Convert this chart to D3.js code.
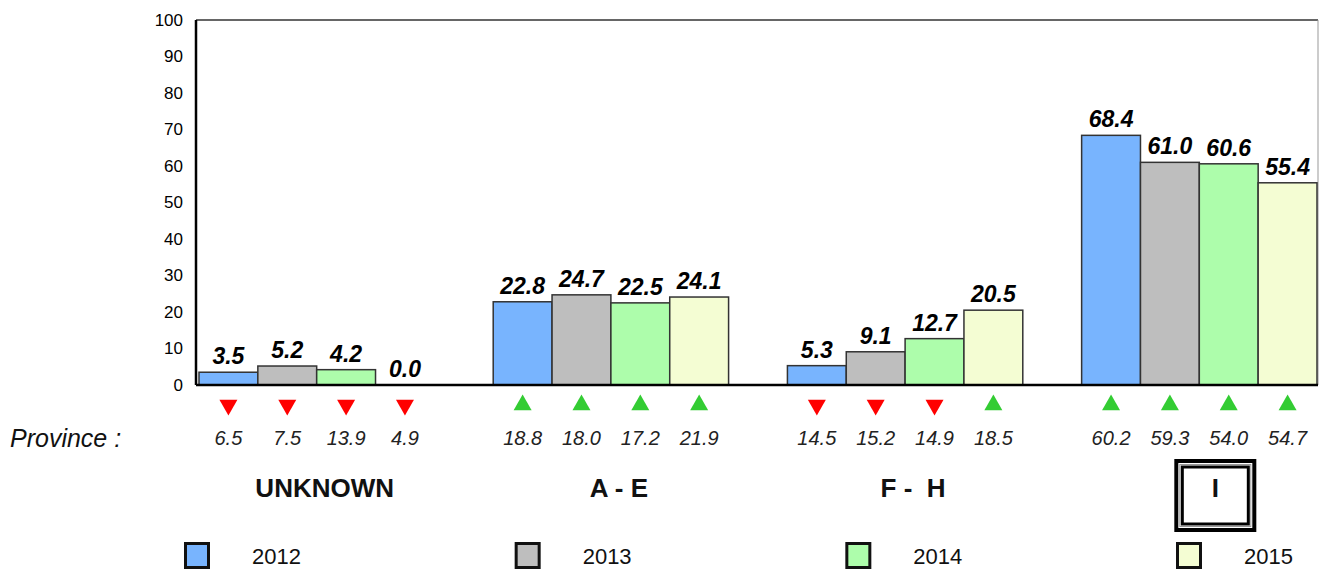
<!DOCTYPE html>
<html>
<head>
<meta charset="utf-8">
<script src="https://cdn.jsdelivr.net/npm/d3@7"></script>
<style>
  body { margin: 0; background: #fff; }
  svg { display: block; font-family: "Liberation Sans", Arial, sans-serif; }
</style>
</head>
<body>
<div id="chart"></div>
<script>
// data
var groups = ["UNKNOWN", "A - E", "F -  H", "I"];
var years = ["2012", "2013", "2014", "2015"];
var colors = ["#78b4fe", "#bebebe", "#adfdab", "#f4fdd3"];
var v2012 = [3.5, 22.8, 5.3, 68.4];
var v2013 = [5.2, 24.7, 9.1, 61.0];
var v2014 = [4.2, 22.5, 12.7, 60.6];
var v2015 = [0.0, 24.1, 20.5, 55.4];
// province figures shown under the bars
var p2012 = [6.5, 18.8, 14.5, 60.2];
var p2013 = [7.5, 18.0, 15.2, 59.3];
var p2014 = [13.9, 17.2, 14.9, 54.0];
var p2015 = [4.9, 21.9, 18.5, 54.7];
var yTicks = [0, 10, 20, 30, 40, 50, 60, 70, 80, 90, 100];
var boxedGroup = "I";

function drawChart() {
    var series = [v2012, v2013, v2014, v2015];
    var province = [p2012, p2013, p2014, p2015];

    var W = 1319, H = 569;
    var margin = { left: 196, right: 1318, top: 20, bottom: 385 };

    var svg = d3.select("#chart").append("svg")
        .attr("width", W)
        .attr("height", H);

    var y = d3.scaleLinear().domain([0, 100]).range([margin.bottom, margin.top]);

    var x0 = d3.scaleBand()
        .domain(groups)
        .range([199, 1317])
        .paddingInner(0.2)
        .paddingOuter(0);

    var x1 = d3.scaleBand()
        .domain(years)
        .range([0, x0.bandwidth()]);

    // frame: top + right
    svg.append("line")
        .attr("x1", margin.left).attr("x2", margin.right)
        .attr("y1", margin.top).attr("y2", margin.top)
        .attr("stroke", "#333").attr("stroke-width", 1.5);
    svg.append("line")
        .attr("x1", margin.right).attr("x2", margin.right)
        .attr("y1", margin.top).attr("y2", margin.bottom)
        .attr("stroke", "#999").attr("stroke-width", 1);

    // y axis labels
    var gy = svg.append("g")
        .attr("transform", "translate(" + margin.left + ",0)")
        .call(d3.axisLeft(y).tickValues(yTicks).tickSize(0).tickPadding(13));
    gy.select(".domain").remove();
    gy.selectAll("text")
        .style("font-size", "17px")
        .style("font-family", "Liberation Sans, Arial, sans-serif")
        .attr("fill", "#000");

    // flat rows for the bars
    var rows = [];
    groups.forEach(function (g, gi) {
        years.forEach(function (yr, si) {
            rows.push({ group: g, year: yr, si: si,
                value: series[si][gi], prov: province[si][gi] });
        });
    });
    var cx = function (d) { return x0(d.group) + x1(d.year) + x1.bandwidth() / 2; };

    svg.append("g").selectAll("rect")
        .data(rows.filter(function (d) { return d.value > 0; }))
        .enter()
        .append("rect")
        .attr("x", function (d) { return x0(d.group) + x1(d.year); })
        .attr("y", function (d) { return y(d.value); })
        .attr("width", x1.bandwidth())
        .attr("height", function (d) { return y(0) - y(d.value); })
        .attr("fill", function (d) { return colors[d.si]; })
        .attr("stroke", "#333")
        .attr("stroke-width", 1.5);

    // value labels
    svg.append("g").selectAll("text")
        .data(rows)
        .enter()
        .append("text")
        .attr("x", cx)
        .attr("y", function (d) { return y(d.value) - 8; })
        .attr("text-anchor", "middle")
        .style("font-size", "23px")
        .style("font-weight", "bold")
        .style("font-style", "italic")
        .attr("fill", "#000")
        .text(function (d) { return d.value.toFixed(1); });

    // axis lines
    svg.append("line")
        .attr("x1", margin.left).attr("x2", margin.left)
        .attr("y1", margin.top).attr("y2", margin.bottom)
        .attr("stroke", "#000").attr("stroke-width", 2.5);
    svg.append("line")
        .attr("x1", margin.left).attr("x2", margin.right)
        .attr("y1", margin.bottom).attr("y2", margin.bottom)
        .attr("stroke", "#000").attr("stroke-width", 2.5);

    // up/down markers
    var tri = d3.symbol().type(d3.symbolTriangle).size(140);
    svg.append("g").selectAll("path")
        .data(rows)
        .enter()
        .append("path")
        .attr("d", tri)
        .attr("transform", function (d) {
            var up = d.value > d.prov;
            return "translate(" + cx(d) + ",405)" + (up ? "" : " rotate(180)");
        })
        .attr("fill", function (d) { return d.value > d.prov ? "#33cc33" : "#ff0000"; });

    // province values
    svg.append("g").selectAll("text")
        .data(rows)
        .enter()
        .append("text")
        .attr("x", cx)
        .attr("y", 445)
        .attr("text-anchor", "middle")
        .style("font-size", "20px")
        .style("font-style", "italic")
        .attr("fill", "#222")
        .text(function (d) { return d.prov.toFixed(1); });

    svg.append("text")
        .attr("x", 10)
        .attr("y", 447)
        .style("font-size", "25px")
        .style("font-style", "italic")
        .attr("fill", "#111")
        .text("Province :");

    // group names
    var gl = svg.append("g").selectAll("g")
        .data(groups)
        .enter()
        .append("g")
        .attr("transform", function (d) {
            return "translate(" + (x0(d) + x0.bandwidth() / 2 + (d === boxedGroup ? 16 : 8)) + ",0)";
        });

    gl.filter(function (d) { return d === boxedGroup; })
        .each(function () {
            var g = d3.select(this);
            g.append("rect").attr("x", -39).attr("y", 461).attr("width", 78).attr("height", 69)
                .attr("fill", "none").attr("stroke", "#000").attr("stroke-width", 4);
            g.append("rect").attr("x", -35.5).attr("y", 464.5).attr("width", 71).attr("height", 62)
                .attr("fill", "none").attr("stroke", "#999").attr("stroke-width", 1);
            g.append("rect").attr("x", -33).attr("y", 467).attr("width", 66).attr("height", 57)
                .attr("fill", "none").attr("stroke", "#000").attr("stroke-width", 3);
        });

    gl.append("text")
        .attr("y", 497)
        .attr("text-anchor", "middle")
        .style("font-size", "26px")
        .style("font-weight", "bold")
        .style("white-space", "pre")
        .attr("fill", "#111")
        .text(function (d) { return d; });

    // legend
    var lx = d3.scaleLinear().domain([0, 3]).range([184, 1176]);
    var lg = svg.append("g").selectAll("g")
        .data(years)
        .enter()
        .append("g")
        .attr("transform", function (d, i) { return "translate(" + lx(i) + ",0)"; });
    lg.append("rect")
        .attr("x", 1.5).attr("y", 543.5)
        .attr("width", 23).attr("height", 24)
        .attr("fill", function (d, i) { return colors[i]; })
        .attr("stroke", "#111").attr("stroke-width", 3);
    lg.append("text")
        .attr("x", 68)
        .attr("y", 564)
        .style("font-size", "22px")
        .attr("fill", "#111")
        .text(function (d) { return d; });
}

drawChart();
</script>
</body>
</html>
